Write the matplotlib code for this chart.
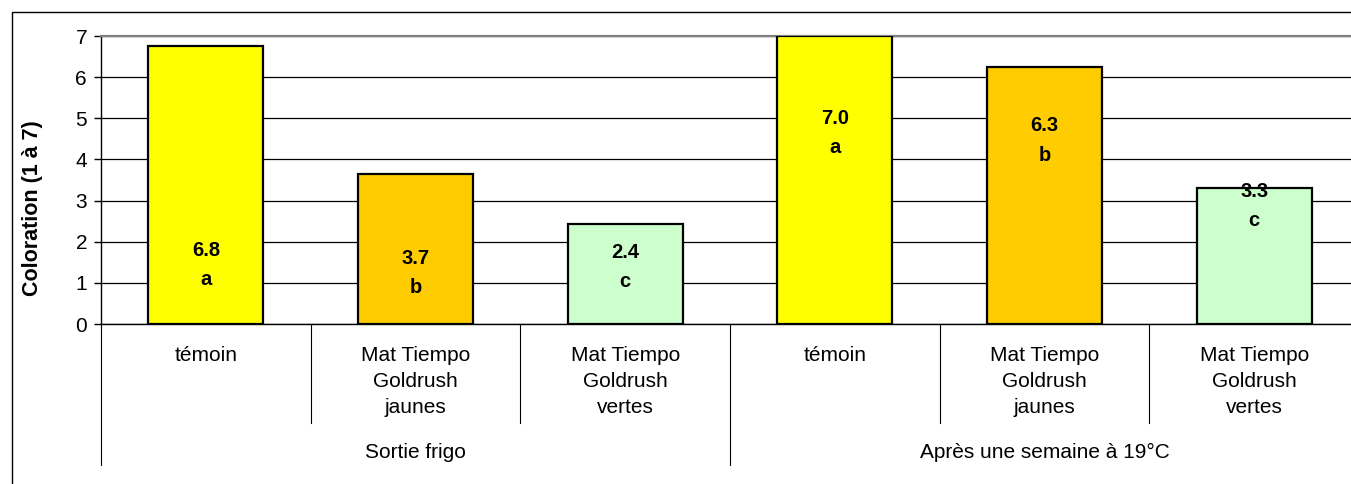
import matplotlib.pyplot as plt
from matplotlib.patches import Rectangle
import matplotlib.transforms as mtransforms

plt.rcParams['font.family'] = ['Liberation Sans', 'DejaVu Sans']

groups = ["Sortie frigo", "Après une semaine à 19°C"]
treatments = ["témoin", "Mat Tiempo\nGoldrush\njaunes", "Mat Tiempo\nGoldrush\nvertes"]
values = [6.76, 3.65, 2.44, 7.0, 6.25, 3.3]
value_labels = ["6.8", "3.7", "2.4", "7.0", "6.3", "3.3"]
letters = ["a", "b", "c", "a", "b", "c"]
colors = ["#FFFF00", "#FFCC00", "#CCFFCC"] * 2

# where the labels were placed by hand in the original (data units, block centre)
label_y = [1.43, 1.24, 1.39, 4.64, 4.46, 2.86]

fig = plt.figure(figsize=(13.51, 4.84), dpi=100)
# outer chart frame (only top and left visible in the crop)
fig.patches.append(Rectangle((12 / 1351, -0.1), 1.2, 1 - 12 / 484 + 0.1,
                             transform=fig.transFigure, fill=False,
                             edgecolor='black', linewidth=1.0))

ax = fig.add_axes([101 / 1351, 1 - 324 / 484, (1359 - 101) / 1351, 288 / 484])
n = len(values)
x = list(range(n))
ax.bar(x, values, width=0.55, color=colors, edgecolor='black', linewidth=1.6, zorder=3)

for i in range(n):
    ax.text(x[i], label_y[i], value_labels[i] + "\n" + letters[i], ha='center', va='center',
            fontsize=14.5, fontweight='bold', linespacing=1.68, zorder=4)

ax.set_xlim(-0.5, n - 0.5)
ax.set_ylim(0, 7)
ax.set_yticks(range(8))
ax.tick_params(axis='y', labelsize=15, length=5, width=1, pad=5)
ax.set_xticks([])
ax.grid(axis='y', color='black', linewidth=0.9, zorder=0)
for s in ['right', 'top']:
    ax.spines[s].set_color('#808080')
    ax.spines[s].set_linewidth(1.6)
ax.spines['left'].set_linewidth(1.0)
ax.spines['bottom'].set_linewidth(1.0)
ax.set_ylabel("Coloration (1 à 7)", fontsize=15.5, fontweight='bold')
ax.yaxis.set_label_coords(-58 / 1258, 116 / 288)

# hierarchical category axis
trans = mtransforms.blended_transform_factory(ax.transData, ax.transAxes)
short = -99 / 288
long_ = -141 / 288
for b in range(n + 1):
    is_group_edge = b % 3 == 0
    ax.plot([b - 0.5, b - 0.5], [0, long_ if is_group_edge else short], transform=trans,
            color='black', linewidth=0.8, clip_on=False)
for i in range(n):
    ax.text(x[i], -22 / 288, treatments[i % 3], transform=trans, ha='center', va='top',
            fontsize=15, linespacing=1.48)
for g, name in enumerate(groups):
    ax.text(3 * g + 1, -128 / 288, name, transform=trans, ha='center', va='center', fontsize=15)

fig.savefig("out.png", dpi=100)
